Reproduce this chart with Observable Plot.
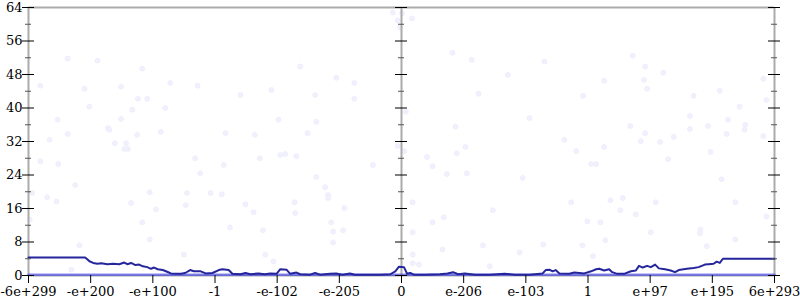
<!DOCTYPE html>
<html>
<head>
<meta charset="utf-8">
<script src="https://cdn.jsdelivr.net/npm/d3@7"></script>
<script src="https://cdn.jsdelivr.net/npm/@observablehq/plot@0.6"></script>
<style>
  html, body { margin: 0; padding: 0; background: #fff; }
  #chart svg, #chart svg text { font-family: "DejaVu Serif", serif !important; font-size: 13px; }
</style>
</head>
<body>
<div id="chart"></div>
<script>
// x is a linear "float ordering" index: -6 .. 6, one unit per labelled tick
const xTicks = [-6, -5, -4, -3, -2, -1, 0, 1, 2, 3, 4, 5, 6];
const xTickLabels = ["-6e+299", "-e+200", "-e+100", "-1", "-e-102", "-e-205", "0", "e-206", "e-103", "1", "e+97", "e+195", "6e+293"];
const yMajor = [0, 8, 16, 24, 32, 40, 48, 56, 64];
const yMinor = [4, 12, 20, 28, 36, 44, 52, 60];
const frameX = [-6, 0, 6];
const frameY = [0, 64];

// main (dark blue) series
const lineX = [-6.00, -5.09, -5.05, -5.02, -4.96, -4.89, -4.83, -4.73, -4.64, -4.54, -4.46, -4.41, -4.35, -4.28, -4.22, -4.16, -4.09, -4.03, -3.98, -3.92, -3.84, -3.77, -3.71, -3.63, -3.55, -3.48, -3.40, -3.34, -3.23, -3.15, -3.04, -2.94, -2.88, -2.78, -2.72, -2.59, -2.51, -2.43, -2.30, -2.20, -2.11, -2.01, -1.95, -1.85, -1.79, -1.69, -1.63, -1.47, -1.39, -1.31, -1.15, -1.05, -0.95, -0.83, -0.75, -0.63, -0.50, -0.34, -0.18, -0.10, -0.04, 0.04, 0.09, 0.14, 0.20, 0.38, 0.62, 0.74, 0.83, 0.91, 1.02, 1.18, 1.42, 1.66, 1.82, 2.06, 2.27, 2.32, 2.38, 2.43, 2.48, 2.54, 2.70, 2.78, 2.94, 3.05, 3.13, 3.18, 3.26, 3.34, 3.39, 3.47, 3.58, 3.69, 3.77, 3.82, 3.88, 3.95, 4.01, 4.08, 4.14, 4.24, 4.33, 4.40, 4.46, 4.59, 4.70, 4.78, 4.88, 4.94, 5.02, 5.07, 5.12, 5.17, 6.00];
const lineY = [4.3, 4.3, 3.8, 3.4, 3.0, 2.8, 2.9, 2.7, 2.8, 2.7, 3.1, 2.7, 3.0, 2.5, 2.6, 2.2, 2.0, 1.6, 1.9, 1.5, 1.3, 0.9, 0.5, 0.4, 0.4, 0.6, 1.3, 1.0, 1.0, 0.5, 0.6, 1.3, 1.5, 1.3, 0.4, 0.3, 0.6, 0.3, 0.5, 0.3, 0.5, 0.4, 1.5, 1.4, 0.4, 0.7, 0.3, 0.2, 0.6, 0.2, 0.4, 0.5, 0.2, 0.5, 0.2, 0.2, 0.2, 0.2, 0.3, 1.0, 2.1, 2.0, 0.4, 0.6, 0.2, 0.2, 0.3, 0.5, 0.8, 0.3, 0.5, 0.2, 0.2, 0.4, 0.2, 0.2, 0.5, 1.3, 1.4, 1.0, 1.3, 0.5, 0.4, 0.7, 0.5, 1.0, 1.5, 1.6, 1.2, 1.5, 0.8, 0.4, 0.4, 1.0, 1.2, 2.3, 1.9, 2.3, 2.0, 2.6, 1.7, 1.5, 1.2, 0.8, 1.3, 1.6, 1.8, 2.0, 2.6, 2.7, 2.8, 3.3, 3.0, 4.0, 4.0];

// bright blue series lying along zero
const zeroX = [-6, 6];
const zeroY = [0.15, 0.15];

// faint scattered samples
const dotX = [-5.37, -4.89, -4.17, -5.81, -5.10, -4.51, -3.72, -3.28, -5.02, -4.24, -4.09, -3.80, -4.33, -5.53, -4.51, -4.72, -4.70, -5.37, -3.87, -4.25, -5.66, -4.61, -4.43, -4.46, -4.40,
  -5.81, -5.52, -5.25, -5.94, -5.70, -5.55, -5.98, -5.18, -5.31, -3.32, -3.24, -4.05, -3.45, -3.47, -4.35, -3.95, -4.17, -4.05, -3.50,
  -2.28, -1.95, -1.87, -1.69, -2.86, -0.46, -1.37, -1.23, -1.18, -1.18, -3.07, -2.89, -2.51, -1.72, -2.38, -1.71, -0.92, 0.18, -1.13, -1.10, -0.94, -1.10, -2.76, -2.23, 0.18, -2.19, -2.06, 0.18, 0.18, 0.04,
  0.41, 0.89, 0.50, 0.73, 1.05, 1.95, 1.47, 2.73, 0.50, 0.68, 2.99, 1.31, 0.66, 1.90, 2.28, 2.91, 3.08, 1.42, 0.28, 2.81, 3.05, 3.13,
  4.29, 4.97, 5.15, 3.36, 3.56, 4.09, 3.52, 3.77, 5.37, 5.87, 3.20, 4.01, 4.81, 4.80, 5.37, 3.28, 4.91,
  3.72, 3.92, 4.21, 3.26, 3.90, 3.95, 5.82, 5.12, 4.70, 5.87, 5.44, 4.64, 5.25, 3.68, 4.64, 4.93, 5.53, 5.52, 3.92, 5.23, 3.85, 4.16, 4.38, 5.82, 3.26,
  -0.14, 0.01, -0.06, 0.17, -0.02, 0.82, 1.13, -1.63, -1.05, -0.76, -1.39, -0.76, 1.24, 0.07, -1.37, -1.51, 0.87, -0.06, 1.03,
  -2.59, -2.09, -1.98, -2.83, -2.36, 1.71, 2.30, 2.06, 2.92, 2.62];
const dotY = [51.8, 51.3, 49.4, 45.3, 44.6, 45.1, 46.0, 45.3, 40.3, 42.2, 42.2, 40.0, 39.6, 37.2, 37.4, 35.2, 34.8, 33.8, 34.3, 33.6, 32.4, 31.6, 31.6, 30.2, 30.2,
  27.3, 26.6, 21.6, 19.7, 18.7, 17.7, 13.4, 7.2, 1.4, 28.0, 24.4, 19.9, 19.7, 16.8, 17.3, 15.8, 12.7, 8.6, 5.0,
  28.0, 28.8, 29.0, 28.5, 26.4, 26.4, 23.5, 21.1, 19.2, 18.5, 19.7, 19.4, 17.0, 17.5, 15.1, 14.9, 16.1, 17.5, 12.7, 10.5, 10.8, 7.9, 11.5, 10.8, 10.3, 5.0, 3.4, 5.0, 2.9, 29.7,
  28.3, 29.2, 26.1, 24.2, 24.4, 23.3, 15.6, 17.5, 12.7, 13.9, 12.9, 7.2, 6.2, 5.5, 7.4, 7.2, 4.6, 2.2, 2.6, 29.7, 26.6, 26.6,
  27.8, 29.5, 23.0, 18.0, 18.5, 17.5, 15.6, 14.6, 17.5, 14.1, 12.7, 10.3, 11.0, 10.1, 8.6, 8.4, 7.0,
  52.5, 49.9, 48.4, 46.5, 46.7, 44.6, 47.0, 44.1, 42.9, 41.9, 40.3, 38.1, 37.2, 35.7, 35.0, 35.7, 36.0, 34.8, 34.0, 33.8, 32.1, 31.9, 33.1, 33.3, 30.7,
  62.8, 62.6, 60.9, 61.4, 59.2, 53.2, 51.5, 49.9, 47.2, 46.0, 43.1, 42.2, 43.4, 39.1, 36.7, 34.0, 35.5, 30.9, 30.7,
  43.1, 44.3, 37.2, 34.0, 33.6, 47.9, 51.1, 37.6, 42.9, 32.4];

const series = lineX.map((x, i) => ({x, y: lineY[i]}));
const zero = zeroX.map((x, i) => ({x, y: zeroY[i]}));
const dots = dotX.map((x, i) => ({x, y: dotY[i]}));

const tickMarks = [];
for (const fx of frameX) {
  tickMarks.push(Plot.ruleY(yMinor, {x1: fx, x2: fx, insetLeft: -3, insetRight: -3, stroke: "#555", strokeWidth: 1}));
  tickMarks.push(Plot.ruleY(yMajor, {x1: fx, x2: fx, insetLeft: -6, insetRight: -6, stroke: "#000", strokeWidth: 1}));
}

const chart = Plot.plot({
  width: 800,
  height: 300,
  marginLeft: 28,
  marginRight: 26,
  marginTop: 7,
  marginBottom: 25,
  style: {fontFamily: "DejaVu Serif", fontSize: "13px", color: "#000", background: "#fff", overflow: "visible"},
  x: {domain: [-6, 6], axis: null},
  y: {domain: [0, 64], axis: null},
  marks: [
    Plot.dot(dots, {x: "x", y: "y", r: 2.5, fill: "#f1f1fd", stroke: "#e9e9fb", strokeWidth: 0.6}),
    Plot.ruleX(frameX, {stroke: "#ababab", strokeWidth: 2}),
    Plot.ruleY(frameY, {stroke: "#ababab", strokeWidth: 2}),
    Plot.line(zero, {x: "x", y: "y", stroke: "#4040f0", strokeOpacity: 0.6, strokeWidth: 2.5}),
    Plot.line(series, {x: "x", y: "y", stroke: "#25259c", strokeWidth: 2}),
    ...tickMarks,
    Plot.axisX(xTicks, {tickSize: 8, tickPadding: 3, stroke: "#000", tickFormat: d => xTickLabels[xTicks.indexOf(d)], label: null}),
    Plot.axisY(yMajor, {anchor: "left", tickSize: 0, tickPadding: 6, label: null})
  ]
});
document.getElementById("chart").appendChild(chart);
</script>
</body>
</html>
